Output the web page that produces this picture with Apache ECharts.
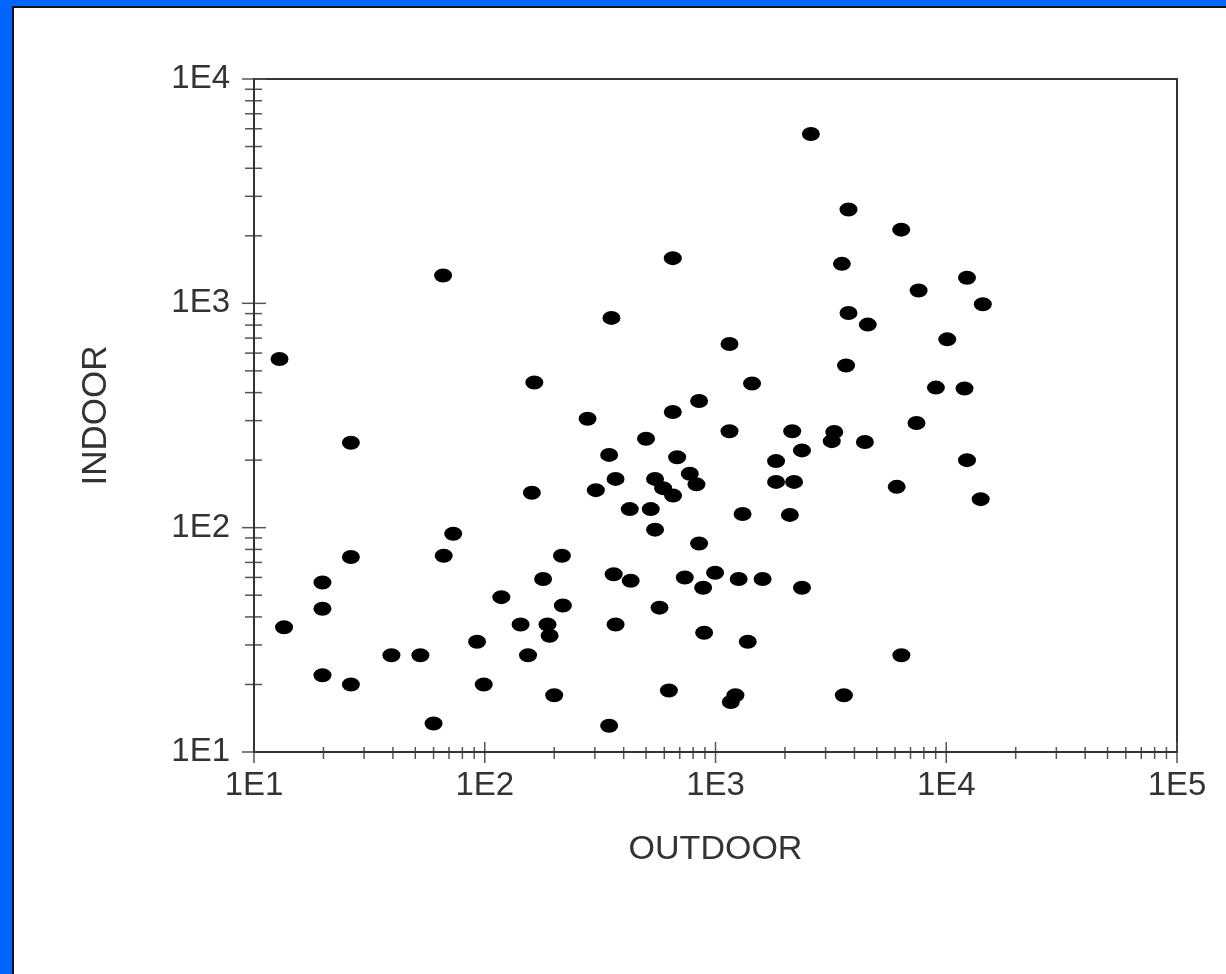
<!DOCTYPE html>
<html lang="en">
<head>
<meta charset="utf-8">
<title>INDOOR / OUTDOOR</title>
<script src="https://cdn.jsdelivr.net/npm/echarts@6/dist/echarts.min.js"></script>
<style>
  html, body { margin: 0; padding: 0; width: 1226px; height: 974px; overflow: hidden; background: #0066ff; }
  #sheet { position: absolute; left: 12px; top: 6px; width: 1214px; height: 968px; background: #fff;
           border-left: 2px solid #111; border-top: 2px solid #111; box-sizing: border-box; }
  #main { position: absolute; left: 0; top: 0; width: 1226px; height: 974px; }
</style>
</head>
<body>
<div id="sheet"></div>
<div id="main"></div>

<script type="text/javascript">
    // values (log-log)
    var outdoor = [66, 12.9, 164, 2590, 3770, 653, 3530, 354, 3770, 4570,
                   1150, 3680, 1440, 849, 653, 279, 6380, 12300, 7590, 14400,
                   10100, 9020, 12000, 7430, 26.3, 160, 73, 26.3, 66.4, 216,
                   19.8, 179, 118, 218, 19.8, 13.5, 143, 187, 191, 92.6,
                   39.4, 52.6, 154, 19.8, 26.3, 99, 200, 60, 1150, 2150,
                   3270, 3190, 4440, 500, 346, 682, 2370, 1830, 369, 547,
                   774, 827, 1830, 2190, 303, 593, 655, 425, 524, 1310,
                   2100, 547, 849, 362, 429, 736, 996, 1260, 1600, 884,
                   2370, 572, 369, 893, 1380, 628, 1220, 1165, 3600, 346,
                   12300, 6100, 14100, 6390];
    var indoor = [1330, 565, 444, 5690, 2620, 1590, 1500, 861, 906, 804,
                  659, 528, 439, 367, 328, 306, 2130, 1300, 1140, 990,
                  691, 421, 417, 293, 239, 143, 94, 74, 75, 75,
                  57, 59, 49, 45, 43.5, 36, 37, 37, 33, 31,
                  27, 27, 27, 22, 20, 20, 17.9, 13.4, 269, 269,
                  267, 243, 241, 249, 211, 206, 221, 198, 165, 165,
                  174, 156, 160, 160, 147, 150, 139, 121, 121, 115,
                  114, 98, 85, 62, 58, 60, 63, 59, 59, 54,
                  54, 44, 37, 34, 31, 18.8, 17.9, 16.7, 17.9, 13.1,
                  200, 152, 134, 27];
    var xRange = [10, 100000];
    var yRange = [10, 10000];

    var pts = [];
    for (var i = 0; i < outdoor.length; i++) {
        pts.push([outdoor[i], indoor[i]]);
    }

    var font = 'Liberation Sans, Arial, sans-serif';
    var expLabel = function (v) { return '1E' + Math.round(Math.log10(v)); };

    var myChart = echarts.init(document.getElementById('main'));

    option = {
        animation: false,
        grid: {
            left: 254, right: 49, top: 79, bottom: 222,
            show: true, borderColor: '#333', borderWidth: 2
        },
        xAxis: {
            type: 'log', logBase: 10, min: xRange[0], max: xRange[1], splitNumber: 4,
            name: 'OUTDOOR', nameLocation: 'middle', nameGap: 81,
            nameTextStyle: { fontFamily: font, fontSize: 34, color: '#333' },
            axisLine: { lineStyle: { color: '#333', width: 2 } },
            axisTick: { show: false },
            splitLine: { show: false },
            axisLabel: { formatter: expLabel, margin: 17, fontFamily: font, fontSize: 33, color: '#333' }
        },
        yAxis: {
            type: 'log', logBase: 10, min: yRange[0], max: yRange[1], splitNumber: 3,
            name: 'INDOOR', nameLocation: 'middle', nameGap: 140,
            nameTextStyle: { fontFamily: font, fontSize: 35, color: '#333' },
            axisLine: { lineStyle: { color: '#333', width: 2 } },
            axisTick: { show: false },
            splitLine: { show: false },
            axisLabel: { formatter: expLabel, margin: 24, fontFamily: font, fontSize: 33, color: '#333' }
        },
        series: [{
            type: 'scatter',
            data: pts,
            symbol: 'circle',
            symbolSize: [18, 14],
            itemStyle: { color: '#000', opacity: 1 }
        }]
    };
    myChart.setOption(option);

    // crossing log ticks (1..9 per decade) drawn on the axis lines
    var ticks = [];
    var axisY = myChart.convertToPixel({ yAxisIndex: 0 }, yRange[0]);
    var axisX = myChart.convertToPixel({ xAxisIndex: 0 }, xRange[0]);
    function addTick(x1, y1, x2, y2) {
        ticks.push({ type: 'line', silent: true, shape: { x1: x1, y1: y1, x2: x2, y2: y2 },
                     style: { stroke: '#555', lineWidth: 1.5 } });
    }
    for (var e = 1; e <= 5; e++) {
        for (var m = 1; m <= 9; m++) {
            var v = m * Math.pow(10, e);
            if (v > xRange[1]) break;
            var px = myChart.convertToPixel({ xAxisIndex: 0 }, v);
            if (m === 1) addTick(px, axisY - 10, px, axisY + 11);
            else addTick(px, axisY - 5, px, axisY + 7);
        }
    }
    for (var e2 = 1; e2 <= 4; e2++) {
        for (var m2 = 1; m2 <= 9; m2++) {
            var w = m2 * Math.pow(10, e2);
            if (w > yRange[1]) break;
            var py = myChart.convertToPixel({ yAxisIndex: 0 }, w);
            if (m2 === 1) addTick(axisX - 12, py, axisX + 12, py);
            else addTick(axisX - 9, py, axisX + 8, py);
        }
    }
    myChart.setOption({ graphic: ticks });
</script>
</body>
</html>
